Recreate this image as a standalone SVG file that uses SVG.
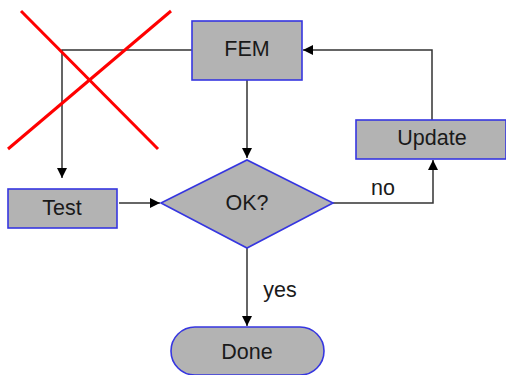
<svg xmlns="http://www.w3.org/2000/svg" width="506" height="375" viewBox="0 0 506 375">
<style>
.box{fill:#b3b3b3;stroke:#3636e0;stroke-width:1.6}
.lbl{font-family:"Liberation Sans",Arial,sans-serif;font-size:21.5px;fill:#1a1a1a;text-anchor:middle;dominant-baseline:central}
.edge{fill:none;stroke:#333333;stroke-width:1.5}
.cross{stroke:#ff0000;stroke-width:3;fill:none}
</style>
<defs>
<marker id="arr" viewBox="0 0 10 10" refX="10" refY="5" markerWidth="10" markerHeight="10" markerUnits="userSpaceOnUse" orient="auto">
<path d="M0,0 L10,5 L0,10 Z" fill="#000"/>
</marker>
</defs>
<rect width="506" height="375" fill="#ffffff"/>
<g id="connectors">
<polyline class="edge" points="192,50 62,50 62,178" marker-end="url(#arr)"/>
<line class="edge" x1="247" y1="80" x2="247" y2="158" marker-end="url(#arr)"/>
<line class="edge" x1="119" y1="203" x2="160" y2="203" marker-end="url(#arr)"/>
<polyline class="edge" points="333,203 433,203 433,160" marker-end="url(#arr)"/>
<polyline class="edge" points="432,120 432,50 303,50" marker-end="url(#arr)"/>
<line class="edge" x1="247" y1="248" x2="247" y2="326" marker-end="url(#arr)"/>
<text class="lbl" x="383" y="188">no</text>
<text class="lbl" x="280" y="290">yes</text>
</g>
<g id="FEM">
<rect class="box" x="192" y="21" width="110" height="59"/>
<text class="lbl" x="247" y="49">FEM</text>
</g>
<g id="Test">
<rect class="box" x="8" y="189" width="109" height="39"/>
<text class="lbl" x="62" y="208">Test</text>
</g>
<g id="OK">
<polygon class="box" points="161,203 247,160 333,203 247,248"/>
<text class="lbl" x="247" y="203">OK?</text>
</g>
<g id="Update">
<rect class="box" x="356" y="120" width="150" height="39"/>
<text class="lbl" x="432" y="138">Update</text>
</g>
<g id="Done">
<rect class="box" x="171" y="327" width="153" height="48" rx="24" ry="24"/>
<text class="lbl" x="247" y="352">Done</text>
</g>
<g id="cross">
<line class="cross" x1="21" y1="11" x2="158" y2="149"/>
<line class="cross" x1="171" y1="11" x2="8" y2="149"/>
</g>
</svg>
